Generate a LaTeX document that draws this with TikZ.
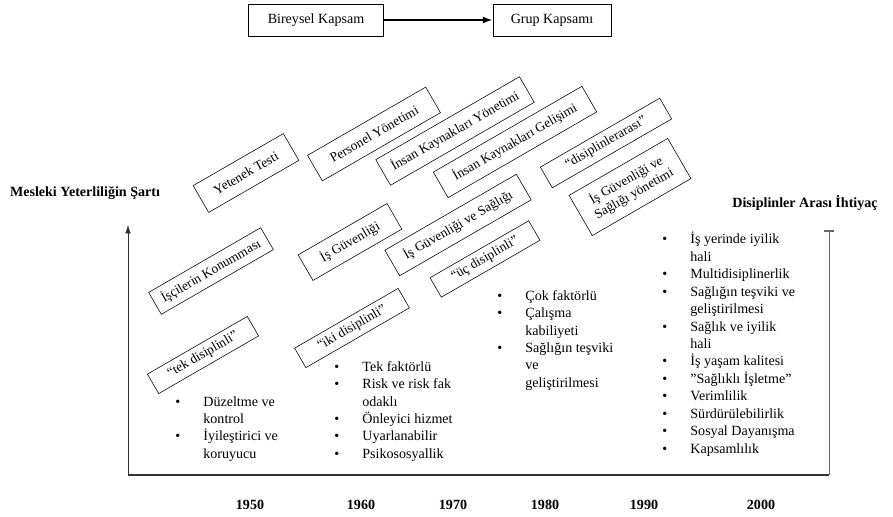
\documentclass[tikz,border=0pt]{standalone}
\usepackage{fontspec}
\setmainfont{Liberation Serif}[Ligatures=Common]
\usetikzlibrary{arrows.meta}
\newcommand{\bitem}[1]{\makebox[20pt][l]{•}#1}
\newcommand{\bcont}{\hspace*{20pt}}

\begin{document}
\begin{tikzpicture}[x=0.025cm, y=-0.025cm,
  scopebox/.style={draw, minimum height=23pt, inner sep=3pt, font=\fontsize{10}{12}\selectfont},
  erabox/.style={draw, rotate=30, inner sep=2pt, align=center, font=\fontsize{9.5}{11}\selectfont},
  bullets/.style={anchor=north west, inner sep=0pt, align=left, font=\fontsize{10}{12.4}\selectfont},
  axislabel/.style={font=\bfseries\fontsize{10}{12}\selectfont},
  year/.style={font=\bfseries\fontsize{10}{12}\selectfont}]
  \useasboundingbox (0,0) rectangle (893,516);

  % scope boxes on top
  \node[scopebox, minimum width=96pt] (bireysel) at (316,20) {Bireysel Kapsam};
  \node[scopebox, minimum width=84pt] (grup) at (552,20) {Grup Kapsamı};
  \draw[-{Latex[length=7pt,width=5pt]}, line width=1.4pt] (bireysel) -- (grup);

  % axes
  \coordinate (origin) at (128,475);
  \coordinate (lefttop) at (128,225);
  \coordinate (rightbot) at (829,475);
  \coordinate (righttop) at (829,230);
  \draw[black!80, line width=1pt] (origin) -- (rightbot);
  \draw[black!80, -{Latex[length=6pt,width=4pt]}] (origin) -- (lefttop);
  \draw[black!60, -{Bar[width=7pt,line width=1.6pt]}] (rightbot) -- (righttop);
  \node[axislabel] (mesleki) at (85,193) {Mesleki Yeterliliğin Şartı};
  \node[axislabel] (disiplinler) at (805,203) {Disiplinler Arası İhtiyaç};

  % rotated era boxes
  \node[erabox, minimum width=74pt, minimum height=22pt] (yetenek) at (246,173) {Yetenek Testi};
  \node[erabox, minimum width=97pt, minimum height=21pt] (personel) at (374,134) {Personel Yönetimi};
  \node[erabox, minimum width=118pt, minimum height=21pt] (ikyonetim) at (455,131) {İnsan Kaynakları Yönetimi};
  \node[erabox, minimum width=122pt, minimum height=21pt] (ikgelisim) at (515,142) {İnsan Kaynakları Gelişimi};
  \node[erabox, minimum width=98pt, minimum height=17pt] (disiplinlerarasi) at (606,143) {“disiplinlerarası”};
  \node[erabox, minimum width=81pt, minimum height=33pt] (isgsyonetim) at (630,187) {İş Güvenliği ve\\Sağlığı yönetimi};
  \node[erabox, minimum width=92pt, minimum height=18pt] (iscilerin) at (211,271) {İşçilerin Konumması};
  \node[erabox, minimum width=73pt, minimum height=21pt] (isguvenligi) at (350,242) {İş Güvenliği};
  \node[erabox, minimum width=108pt, minimum height=21pt] (isgs) at (458,225) {İş Güvenliği ve Sağlığı};
  \node[erabox, minimum width=81pt, minimum height=16pt] (ucdisiplinli) at (485,259) {“üç disiplinli”};
  \node[erabox, minimum width=82pt, minimum height=16pt] (tekdisiplinli) at (203,355) {“tek disiplinli”};
  \node[erabox, minimum width=85pt, minimum height=16pt] (ikidisiplinli) at (352,328) {“iki disiplinli”};

  % bullet lists
  \node[bullets] (list1950) at (175,396) {\bitem{Düzeltme ve}\\ \bcont kontrol\\ \bitem{İyileştirici ve}\\ \bcont koruyucu};
  \node[bullets] (list1960) at (334,361) {\bitem{Tek faktörlü}\\ \bitem{Risk ve risk fak}\\ \bcont odaklı\\ \bitem{Önleyici hizmet}\\ \bitem{Uyarlanabilir}\\ \bitem{Psikososyallik}};
  \node[bullets] (list1980) at (497,290) {\bitem{Çok faktörlü}\\ \bitem{Çalışma}\\ \bcont kabiliyeti\\ \bitem{Sağlığın teşviki}\\ \bcont ve\\ \bcont geliştirilmesi};
  \node[bullets] (list2000) at (662,232) {\bitem{İş yerinde iyilik}\\ \bcont hali\\ \bitem{Multidisiplinerlik}\\ \bitem{Sağlığın teşviki ve}\\ \bcont geliştirilmesi\\ \bitem{Sağlık ve iyilik}\\ \bcont hali\\ \bitem{İş yaşam kalitesi}\\ \bitem{"Sağlıklı İşletme"}\\ \bitem{Verimlilik}\\ \bitem{Sürdürülebilirlik}\\ \bitem{Sosyal Dayanışma}\\ \bitem{Kapsamlılık}};

  % years
  \node[year] (y1950) at (250,505) {1950};
  \node[year] (y1960) at (361,505) {1960};
  \node[year] (y1970) at (453,505) {1970};
  \node[year] (y1980) at (545,505) {1980};
  \node[year] (y1990) at (644,505) {1990};
  \node[year] (y2000) at (761,505) {2000};
\end{tikzpicture}
\end{document}
